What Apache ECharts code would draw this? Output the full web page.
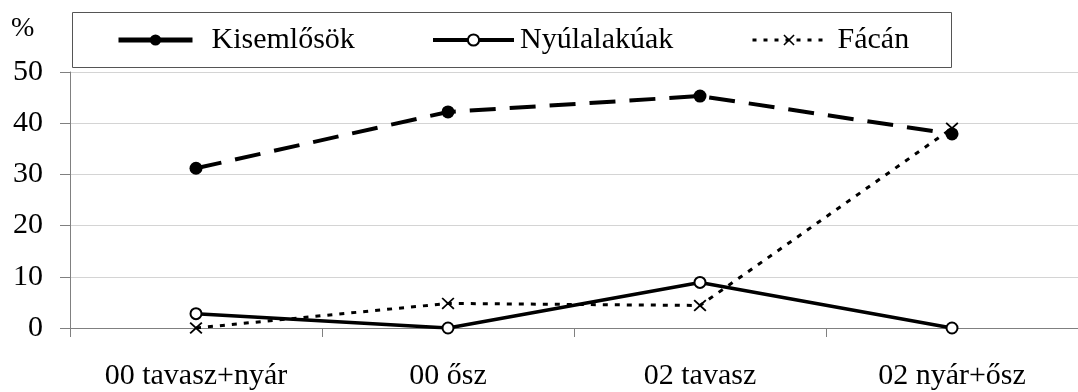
<!DOCTYPE html>
<html>
<head>
<meta charset="utf-8">
<script src="https://cdn.jsdelivr.net/npm/echarts@6/dist/echarts.min.js"></script>
<style>
html,body{margin:0;padding:0;background:#fff;}
#chart{width:1078px;height:392px;}
</style>
</head>
<body>
<div id="chart"></div>
<script>
const categories = ['00 tavasz+nyár', '00 ősz', '02 tavasz', '02 nyár+ősz'];
const seriesNames = ['Kisemlősök', 'Nyúlalakúak', 'Fácán'];
const kisemlosok = [31.2, 42.2, 45.3, 37.9];
const nyulalakuak = [2.8, 0, 8.9, 0];
const facan = [0, 4.8, 4.4, 39.0];
const yTicks = { min: 0, max: 50, interval: 10 };
const yUnit = '%';

const FONT = "'Liberation Serif', 'Times New Roman', serif";
const xPath = 'path://M0,1L1,0L5,4L9,0L10,1L6,5L10,9L9,10L5,6L1,10L0,9L4,5Z';

const chart = echarts.init(document.getElementById('chart'), null, { renderer: 'canvas' });

function legendFor(name, left, itemWidth, textPad, lineStyle) {
  return {
    data: [name],
    left: left,
    top: 25,
    orient: 'horizontal',
    itemWidth: itemWidth,
    itemHeight: 14,
    padding: 0,
    selectedMode: false,
    lineStyle: lineStyle,
    textStyle: { fontFamily: FONT, fontSize: 30, color: '#000', lineHeight: 30, padding: [0, 0, 0, textPad] }
  };
}

chart.setOption({
  animation: false,
  backgroundColor: '#fff',
  title: {
    text: yUnit,
    left: 6,
    top: 10,
    textStyle: { fontFamily: FONT, fontSize: 28, fontWeight: 'normal', color: '#000' }
  },
  graphic: [{
    type: 'rect',
    shape: { x: 72.5, y: 12.5, width: 879, height: 55 },
    style: { fill: '#fff', stroke: '#555', lineWidth: 1 },
    z: 0
  }],
  legend: [
    legendFor(seriesNames[0], 116, 74, 14, { color: '#000', width: 5, type: 'solid' }),
    legendFor(seriesNames[1], 431, 81, 1, { color: '#000', width: 4, type: 'solid' }),
    legendFor(seriesNames[2], 751, 73, 7, { color: '#000', width: 3, type: [4, 7] })
  ],
  grid: { left: 70, top: 72, width: 1016, height: 256, containLabel: false },
  xAxis: {
    type: 'category',
    data: categories,
    boundaryGap: true,
    axisLine: { show: true, lineStyle: { color: '#808080', width: 1 } },
    axisTick: { show: true, length: 9, lineStyle: { color: '#808080' } },
    axisLabel: { fontFamily: FONT, fontSize: 30, color: '#000', margin: 33 },
    splitLine: { show: false }
  },
  yAxis: {
    type: 'value',
    min: yTicks.min,
    max: yTicks.max,
    interval: yTicks.interval,
    axisLine: { show: true, lineStyle: { color: '#808080', width: 1 } },
    axisTick: { show: true, length: 10, lineStyle: { color: '#808080' } },
    axisLabel: { fontFamily: FONT, fontSize: 30, color: '#000', margin: 27 },
    splitLine: { show: true, lineStyle: { color: '#d4d4d4', width: 1 } }
  },
  series: [
    {
      name: seriesNames[0],
      type: 'line',
      data: kisemlosok,
      symbol: 'circle',
      symbolSize: 13,
      lineStyle: { color: '#000', width: 4, type: [26, 14] },
      itemStyle: { color: '#000', borderColor: '#000', borderWidth: 0 },
      z: 3
    },
    {
      name: seriesNames[1],
      type: 'line',
      data: nyulalakuak,
      symbol: 'circle',
      symbolSize: 11,
      lineStyle: { color: '#000', width: 3.5, type: 'solid' },
      itemStyle: { color: '#fff', borderColor: '#000', borderWidth: 2 },
      z: 4
    },
    {
      name: seriesNames[2],
      type: 'line',
      data: facan,
      symbol: xPath,
      symbolSize: [13, 12],
      lineStyle: { color: '#000', width: 3, type: [5, 7] },
      itemStyle: { color: '#000' },
      z: 5
    }
  ]
});
</script>
</body>
</html>
